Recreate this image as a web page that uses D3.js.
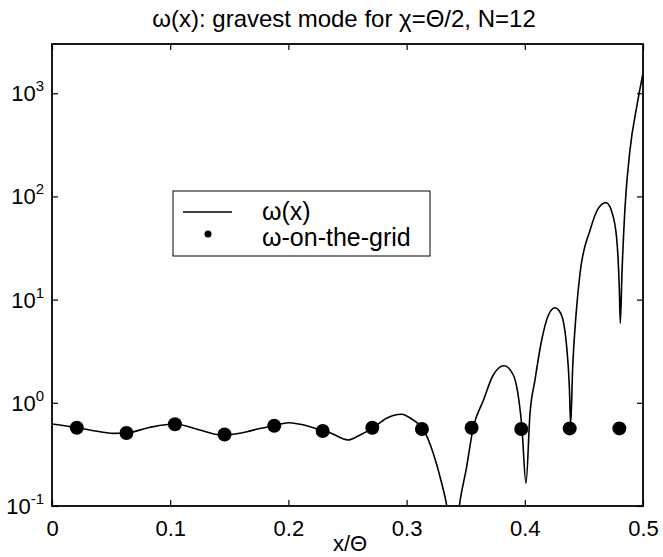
<!DOCTYPE html>
<html><head><meta charset="utf-8">
<script src="https://cdn.jsdelivr.net/npm/d3@7"></script>
<style>
html,body{margin:0;padding:0;background:#fff;}
text{font-family:"Liberation Sans",Arial,Helvetica,sans-serif;fill:#000;}
</style></head>
<body><svg id="chart" width="663" height="557"></svg>
<script>
// ---- data ----
const xTicks = [0, 0.1, 0.2, 0.3, 0.4, 0.5];
const xTickLabels = ["0", "0.1", "0.2", "0.3", "0.4", "0.5"];
const yTicks = [0.1, 1, 10, 100, 1000];
const yTickExponents = ["-1", "0", "1", "2", "3"];

const curveX = [0.000,0.021,0.035,0.0516,0.063,0.083,0.104,0.125,0.143,0.165,0.173,0.188,0.200,0.210,0.230,0.2352,0.2504,0.2606,0.272,0.283,0.2955,0.3057,0.314,0.3226,0.3297,0.334,0.3395,0.3446,0.3508,0.3564,0.365,0.3733,0.3824,0.3903,0.3953,0.3975,0.401,0.4044,0.4086,0.4143,0.420,0.4255,0.4305,0.4354,0.4377,0.4388,0.4405,0.4435,0.4467,0.4552,0.4622,0.4687,0.4749,0.4783,0.4800,0.4808,0.4822,0.4848,0.489,0.4947,0.500];
const curveW = [0.623,0.574,0.537,0.506,0.51,0.579,0.623,0.545,0.488,0.525,0.554,0.60,0.641,0.619,0.533,0.513,0.436,0.488,0.574,0.708,0.774,0.68,0.557,0.323,0.166,0.10,0.03,0.10,0.24,0.574,1.06,1.86,2.29,1.86,1.0,0.59,0.166,0.79,1.66,4.06,7.1,8.35,7.3,3.5,1.43,0.62,2.2,7.5,17.9,47,76.6,87,63,32.5,12.4,5.9,17.9,79,282,741,1560];

const gridX = [0.021,0.063,0.104,0.146,0.188,0.229,0.271,0.313,0.355,0.397,0.438,0.480];
const gridW = [0.574,0.51,0.62,0.493,0.60,0.533,0.574,0.557,0.574,0.557,0.565,0.565];

const titleText = "ω(x): gravest mode for χ=Θ/2, N=12";
const xLabel = "x/Θ";
const legendLabels = ["ω(x)", "ω-on-the-grid"];

// ---- layout ----
const L = 52, R = 643, T = 44, B = 506;
const svg = d3.select("#chart");
const x = d3.scaleLinear().domain([0, 0.5]).range([L, R]);
const y = d3.scaleLog().domain([0.1, 3000]).range([B, T]);

svg.append("defs").append("clipPath").attr("id","clip")
  .append("rect").attr("x",L).attr("y",T).attr("width",R-L).attr("height",B-T);

// title
svg.append("text").attr("x", 344).attr("y", 27).attr("text-anchor","middle")
  .style("font-size","24px").text(titleText);

// axes (inward ticks, mirrored)
const tickLen = 6;
const gB = svg.append("g").attr("transform",`translate(0,${B})`)
  .call(d3.axisBottom(x).tickValues(xTicks).tickSizeInner(-tickLen).tickSizeOuter(0).tickPadding(10)
    .tickFormat((d,i)=>xTickLabels[i]));
gB.selectAll("text").style("font-size","22px").attr("dy","0.93em");
const gT = svg.append("g").attr("transform",`translate(0,${T})`)
  .call(d3.axisTop(x).tickValues(xTicks).tickSizeInner(-tickLen).tickSizeOuter(0).tickFormat(""));
const gL = svg.append("g").attr("transform",`translate(${L},0)`)
  .call(d3.axisLeft(y).tickValues(yTicks).tickSizeInner(-tickLen).tickSizeOuter(0).tickPadding(10)
    .tickFormat(""));
const gR = svg.append("g").attr("transform",`translate(${R},0)`)
  .call(d3.axisRight(y).tickValues(yTicks).tickSizeInner(-tickLen).tickSizeOuter(0).tickFormat(""));
[gB,gT,gL,gR].forEach(g=>{ g.select(".domain").remove(); g.selectAll("line").attr("stroke","#000").attr("stroke-width",1.2); });

// y tick labels with superscripts
const yl = svg.append("g");
yTicks.forEach((v,i)=>{
  const t = yl.append("text").attr("x", 44).attr("y", y(v)+8).attr("text-anchor","end")
    .style("font-size","22px");
  t.append("tspan").text("10");
  t.append("tspan").attr("dy",-10).style("font-size","15px").text(yTickExponents[i]);
});

// frame
svg.append("rect").attr("x",L).attr("y",T).attr("width",R-L).attr("height",B-T)
  .attr("fill","none").attr("stroke","#000").attr("stroke-width",1.8);

// x label
svg.append("text").attr("x", 350).attr("y", 551).attr("text-anchor","middle")
  .style("font-size","22px").text(xLabel);

// curve
const pts = curveX.map((d,i)=>[d, curveW[i]]);
const line = d3.line().x(d=>x(d[0])).y(d=>y(d[1])).curve(d3.curveMonotoneX);
svg.append("path").datum(pts).attr("clip-path","url(#clip)")
  .attr("d", line).attr("fill","none").attr("stroke","#000").attr("stroke-width",1.6);

// grid dots
svg.append("g").selectAll("circle").data(gridX).join("circle")
  .attr("cx",(d)=>x(d)).attr("cy",(d,i)=>y(gridW[i])).attr("r",7).attr("fill","#000");

// legend
const lg = svg.append("g");
lg.append("rect").attr("x",173).attr("y",191).attr("width",257).attr("height",65)
  .attr("fill","#fff").attr("stroke","#000").attr("stroke-width",1);
lg.append("line").attr("x1",183).attr("x2",232).attr("y1",212).attr("y2",212)
  .attr("stroke","#000").attr("stroke-width",1.5);
lg.append("circle").attr("cx",208).attr("cy",234).attr("r",3.5).attr("fill","#000");
lg.append("text").attr("x",262).attr("y",220).style("font-size","25px").text(legendLabels[0]);
lg.append("text").attr("x",262).attr("y",246).style("font-size","25px").text(legendLabels[1]);
</script></body></html>
